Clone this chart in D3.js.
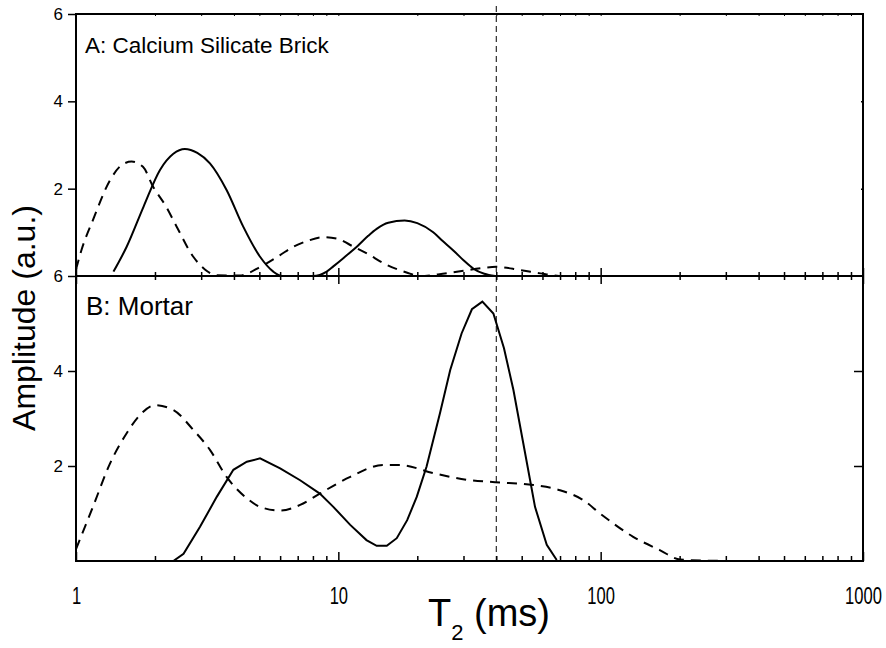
<!DOCTYPE html>
<html lang="en">

<head>
    <meta charset="UTF-8">
    <title>T2 distributions</title>
    <script src="https://cdn.jsdelivr.net/npm/d3@7"></script>
    <style>
        * {
            margin: 0;
        }

        body {
            background: #fff;
        }

        svg text {
            font-family: "Liberation Sans", Arial, sans-serif;
            fill: #000;
        }

        .narrow {
            font-family: "Liberation Sans Narrow", "Liberation Sans", Arial, sans-serif !important;
        }
    </style>
</head>

<body>
    <svg id="chart" width="886" height="648"></svg>
    <script>
        // A: calcium silicate brick
        var t2BrickSolid = [1.39, 1.56, 1.81, 2.09, 2.35, 2.6, 2.9, 3.24, 3.75, 4.34, 5.03, 5.65, 6.1, 7, 8, 9.03, 9.57, 10.5, 11.9, 13, 14, 15.5, 17.9, 20, 23, 25, 27.5, 30, 32.7, 36, 39.6];
        var ampBrickSolid = [0.1, 0.67, 1.59, 2.43, 2.8, 2.91, 2.82, 2.58, 1.97, 1.13, 0.44, 0.1, 0, 0, 0, 0.1, 0.22, 0.42, 0.7, 0.92, 1.08, 1.22, 1.27, 1.21, 1.0, 0.8, 0.58, 0.36, 0.17, 0.05, 0];

        var t2BrickDashed = [1, 1.05, 1.16, 1.35, 1.5, 1.63, 1.8, 1.97, 2.2, 2.42, 2.8, 3.1, 3.44, 4.2, 4.6, 5.0, 5.33, 6.0, 6.74, 7.6, 8.75, 10, 11.1, 13, 14.9, 18.2, 20.5, 25, 30, 35, 40, 49, 58.9, 72, 100];
        var ampBrickDashed = [0.15, 0.6, 1.28, 2.2, 2.55, 2.62, 2.5, 2.04, 1.6, 1.13, 0.44, 0.15, 0.02, 0.01, 0.08, 0.2, 0.29, 0.48, 0.67, 0.8, 0.89, 0.85, 0.71, 0.5, 0.29, 0.08, 0, 0.05, 0.12, 0.18, 0.21, 0.14, 0.06, 0, 0];

        // B: mortar
        var t2MortarSolid = [1, 2.35, 2.57, 2.97, 3.44, 3.98, 4.48, 5.03, 6.0, 7.15, 8.5, 9.57, 11.1, 12.8, 14, 15.3, 16.7, 18.3, 19.9, 21.7, 24.4, 26.7, 29.5, 32.3, 35.4, 39, 42.8, 46.5, 50.7, 56.2, 62.3, 68];
        var ampMortarSolid = [0, 0, 0.15, 0.72, 1.35, 1.92, 2.09, 2.16, 1.95, 1.7, 1.42, 1.14, 0.76, 0.44, 0.32, 0.32, 0.48, 0.86, 1.35, 1.99, 3.11, 4.02, 4.79, 5.3, 5.46, 5.21, 4.48, 3.6, 2.48, 1.14, 0.34, 0.02];

        var t2MortarDashed = [1, 1.16, 1.35, 1.56, 1.75, 2.0, 2.35, 2.8, 3.24, 3.75, 4.48, 5.03, 6.0, 7.15, 8.5, 11.1, 14.8, 17.2, 23, 30.9, 39.6, 55.4, 70, 85.9, 99.5, 133, 168, 201, 300];
        var ampMortarDashed = [0.25, 1.14, 2.06, 2.69, 3.07, 3.28, 3.18, 2.76, 2.34, 1.77, 1.32, 1.14, 1.06, 1.18, 1.42, 1.77, 2.02, 2.02, 1.85, 1.71, 1.66, 1.6, 1.49, 1.28, 1.0, 0.51, 0.23, 0.03, 0];

        var xMajorTicks = [1, 10, 100, 1000];
        var xMinorTicks = [2, 3, 4, 5, 6, 7, 8, 9, 20, 30, 40, 50, 60, 70, 80, 90, 200, 300, 400, 500, 600, 700, 800, 900];
        var yTicks = [2, 4, 6];
        var cutoffT2 = 40;

        var left = 76, right = 863, topA = 14, midY = 276, botB = 561;

        var svg = d3.select("#chart");

        var x = d3.scaleLog().domain([1, 1000]).range([left, right]);
        var yA = d3.scaleLinear().domain([0, 6]).range([midY, topA]);
        var yB = d3.scaleLinear().domain([0, 6]).range([botB, midY]);

        function zip(ts, vs) {
            return ts.map(function (t, i) { return [t, vs[i]]; });
        }

        function styleAxis(g, width) {
            g.select(".domain").remove();
            g.selectAll("line").attr("stroke", "#000").attr("stroke-width", width);
        }

        // frame
        svg.append("rect")
            .attr("x", left).attr("y", topA)
            .attr("width", right - left).attr("height", botB - topA)
            .attr("fill", "none").attr("stroke", "#000").attr("stroke-width", 2);
        svg.append("line")
            .attr("x1", left).attr("x2", right)
            .attr("y1", midY).attr("y2", midY)
            .attr("stroke", "#000").attr("stroke-width", 2);

        // left y axes (outward ticks)
        [yA, yB].forEach(function (y) {
            svg.append("g")
                .attr("transform", "translate(" + left + ",0)")
                .call(d3.axisLeft(y).tickValues(yTicks).tickSize(8).tickPadding(5).tickFormat(d3.format("d")))
                .call(styleAxis, 1.5)
                .selectAll("text").attr("font-size", 17);
        });

        // right y axes (inward ticks)
        svg.append("g")
            .attr("transform", "translate(" + right + ",0)")
            .call(d3.axisLeft(yA).tickValues([2, 4]).tickSize(2).tickFormat(""))
            .call(styleAxis, 1.5);
        svg.append("g")
            .attr("transform", "translate(" + right + ",0)")
            .call(d3.axisLeft(yB).tickValues([2, 4]).tickSize(9).tickFormat(""))
            .call(styleAxis, 1.5);

        // top edge: tiny inward ticks
        svg.append("g")
            .attr("transform", "translate(0," + topA + ")")
            .call(d3.axisBottom(x).tickValues(xMajorTicks.concat(xMinorTicks)).tickSize(2).tickFormat(""))
            .call(styleAxis, 1);

        // middle boundary: ticks cross the line
        [d3.axisBottom, d3.axisTop].forEach(function (ax) {
            svg.append("g")
                .attr("transform", "translate(0," + midY + ")")
                .call(ax(x).tickValues(xMinorTicks).tickSize(4).tickFormat(""))
                .call(styleAxis, 1.5);
            svg.append("g")
                .attr("transform", "translate(0," + midY + ")")
                .call(ax(x).tickValues(xMajorTicks).tickSize(8).tickFormat(""))
                .call(styleAxis, 1.5);
        });

        // bottom axis: inward ticks, labels below (condensed digits)
        svg.append("g")
            .attr("transform", "translate(0," + botB + ")")
            .call(d3.axisTop(x).tickValues(xMinorTicks).tickSize(5).tickFormat(""))
            .call(styleAxis, 1.5);
        svg.append("g")
            .attr("transform", "translate(0," + botB + ")")
            .call(d3.axisBottom(x).tickValues(xMajorTicks).tickSizeInner(-9).tickSizeOuter(0).tickPadding(27).tickFormat(d3.format("d")))
            .call(styleAxis, 1.5)
            .selectAll("text")
            .attr("font-size", 23)
            .attr("transform", "scale(0.72,1)");

        // T2 cutoff line
        svg.append("line")
            .attr("x1", x(cutoffT2)).attr("x2", x(cutoffT2))
            .attr("y1", 6).attr("y2", botB)
            .attr("stroke", "#000").attr("stroke-width", 1)
            .attr("stroke-dasharray", "6,4");

        var smooth = function (y) {
            return d3.line().x(function (d) { return x(d[0]); }).y(function (d) { return y(d[1]); }).curve(d3.curveMonotoneX);
        };
        var straight = function (y) {
            return d3.line().x(function (d) { return x(d[0]); }).y(function (d) { return y(d[1]); });
        };

        var series = [
            { data: zip(t2BrickSolid, ampBrickSolid), line: smooth(yA), dash: null },
            { data: zip(t2BrickDashed, ampBrickDashed), line: smooth(yA), dash: "10,7" },
            { data: zip(t2MortarSolid, ampMortarSolid), line: straight(yB), dash: null },
            { data: zip(t2MortarDashed, ampMortarDashed), line: smooth(yB), dash: "10,7" }
        ];

        series.forEach(function (s) {
            svg.append("path")
                .datum(s.data)
                .attr("d", s.line)
                .attr("fill", "none")
                .attr("stroke", "#000")
                .attr("stroke-width", 2)
                .attr("stroke-dasharray", s.dash);
        });

        // panel labels
        svg.append("text")
            .attr("x", 85).attr("y", 53)
            .attr("font-size", 22.5)
            .text("A: Calcium Silicate Brick");
        svg.append("text")
            .attr("x", 86).attr("y", 315)
            .attr("font-size", 26)
            .text("B: Mortar");

        // axis titles
        svg.append("text")
            .attr("transform", "translate(35,318) rotate(-90)")
            .attr("text-anchor", "middle")
            .attr("font-size", 32)
            .text("Amplitude (a.u.)");

        var xt = svg.append("text")
            .attr("class", "narrow")
            .attr("x", 489).attr("y", 626)
            .attr("text-anchor", "middle")
            .attr("font-size", 38);
        xt.append("tspan").text("T");
        xt.append("tspan").attr("font-size", 22).attr("dy", 14).text("2");
        xt.append("tspan").attr("dy", -14).text(" (ms)");
    </script>
</body>

</html>
